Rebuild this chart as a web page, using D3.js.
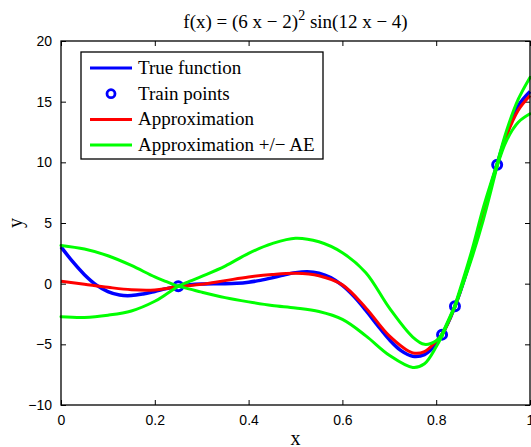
<!DOCTYPE html>
<html>
<head>
<meta charset="utf-8">
<script src="https://cdn.jsdelivr.net/npm/d3@7"></script>
<style>
  html, body { margin: 0; padding: 0; background: #fff; overflow: hidden; }
  svg { display: block; }
  .tick text { font-family: "Liberation Sans", Arial, sans-serif; font-size: 14px; fill: #000; }
  .serif { font-family: "Liberation Serif", "Times New Roman", serif; fill: #000; }
</style>
</head>
<body>
<div id="chart"></div>
<script>
// x positions
const xTrue = [0, 0.025, 0.05, 0.075, 0.1, 0.125, 0.15, 0.175, 0.2, 0.225, 0.25, 0.275, 0.3, 0.325,
  0.35, 0.375, 0.4, 0.425, 0.45, 0.475, 0.5, 0.525, 0.55, 0.575, 0.6, 0.625, 0.65, 0.675, 0.7,
  0.725, 0.75, 0.775, 0.8, 0.825, 0.85, 0.875, 0.9, 0.925, 0.95, 0.975, 1];
const yTrue = [3.03, 1.81, 0.74, -0.10, -0.66, -0.94, -0.98, -0.85, -0.64, -0.41, -0.21, -0.08, -0.02, 0.0,
  0.0, 0.03, 0.12, 0.27, 0.48, 0.72, 0.91, 0.99, 0.87, 0.50, -0.15, -1.07, -2.21, -3.44, -4.61,
  -5.52, -5.99, -5.85, -4.95, -3.25, -0.80, 2.27, 5.71, 9.19, 12.30, 14.65, 15.83];

const trainX = [0.25, 0.8125, 0.84, 0.93];
const trainY = [-0.21, -4.2, -1.86, 9.8];

const xApprox = [0, 0.05, 0.1, 0.15, 0.2, 0.225, 0.25, 0.275, 0.3, 0.35, 0.4, 0.45, 0.5, 0.55, 0.6, 0.65, 0.7,
  0.75, 0.775, 0.8, 0.8125, 0.84, 0.875, 0.9, 0.93, 0.95, 0.975, 1];
const yApprox = [0.2, -0.05, -0.3, -0.5, -0.52, -0.4, -0.22, -0.15, -0.05, 0.25, 0.55, 0.75, 0.85, 0.65, -0.1, -2.0, -4.3,
  -5.7, -5.6, -4.75, -4.2, -1.86, 2.3, 5.7, 9.8, 12.2, 14.3, 15.5];
const yUpper = [3.15, 2.85, 2.3, 1.5, 0.55, 0.17, -0.22, 0.2, 0.6, 1.45, 2.5, 3.3, 3.75, 3.45, 2.55, 0.9, -2.0,
  -4.4, -5.0, -4.7, -4.15, -1.8, 2.6, 6.2, 9.9, 12.6, 15.2, 17.0];
const yLower = [-2.72, -2.78, -2.6, -2.25, -1.45, -0.85, -0.22, -0.45, -0.7, -1.15, -1.5, -1.8, -2.0, -2.3, -2.95, -4.3, -5.9,
  -6.9, -6.6, -5.2, -4.3, -1.92, 2.0, 5.2, 9.7, 11.8, 13.3, 14.0];

const xTicks = [0, 0.2, 0.4, 0.6, 0.8, 1];
const yTicks = [-10, -5, 0, 5, 10, 15, 20];
const legendItems = ["True function", "Train points", "Approximation", "Approximation +/\u2212 AE"];

const W = 531, H = 447;
const plot = { left: 61, right: 530, top: 41, bottom: 405 };

const svg = d3.select("#chart").append("svg").attr("width", W).attr("height", H);

const x = d3.scaleLinear().domain([0, 1]).range([plot.left, plot.right]);
const y = d3.scaleLinear().domain([-10, 20]).range([plot.bottom, plot.top]);

const fmtTick = d => d < 0 ? "\u2212" + Math.abs(d) : String(d);

// axes with inward ticks on all four sides
const axisStyle = g => {
  g.select(".domain").remove();
  g.selectAll(".tick line").attr("stroke", "#000").attr("stroke-width", 1);
};
svg.append("g").attr("transform", `translate(0,${plot.bottom})`)
  .call(d3.axisBottom(x).tickValues(xTicks).tickSizeInner(-5).tickSizeOuter(0).tickPadding(10).tickFormat(d => d))
  .call(axisStyle);
svg.append("g").attr("transform", `translate(0,${plot.top})`)
  .call(d3.axisTop(x).tickValues(xTicks).tickSizeInner(-5).tickSizeOuter(0).tickFormat(""))
  .call(axisStyle);
svg.append("g").attr("transform", `translate(${plot.left},0)`)
  .call(d3.axisLeft(y).tickValues(yTicks).tickSizeInner(-5).tickSizeOuter(0).tickPadding(9).tickFormat(fmtTick))
  .call(axisStyle);
svg.append("g").attr("transform", `translate(${plot.right},0)`)
  .call(d3.axisRight(y).tickValues(yTicks).tickSizeInner(-5).tickSizeOuter(0).tickFormat(""))
  .call(axisStyle);

// curves
const line = d3.line().x(d => x(d[0])).y(d => y(d[1])).curve(d3.curveCatmullRom.alpha(0.5));
const g = svg.append("g");

g.append("path").datum(d3.zip(xTrue, yTrue)).attr("d", line)
  .attr("fill", "none").attr("stroke", "#0000ff").attr("stroke-width", 3.5);

g.selectAll("circle.train").data(d3.zip(trainX, trainY)).join("circle")
  .attr("class", "train")
  .attr("cx", d => x(d[0])).attr("cy", d => y(d[1])).attr("r", 4.5)
  .attr("fill", "none").attr("stroke", "#0000ff").attr("stroke-width", 3);

g.append("path").datum(d3.zip(xApprox, yApprox)).attr("d", line)
  .attr("fill", "none").attr("stroke", "#ff0000").attr("stroke-width", 3);

// error band: drawn piecewise so it pinches sharply at each train point
function splitAtTrain(pts) {
  const parts = [[]];
  pts.forEach(p => {
    parts[parts.length - 1].push(p);
    if (trainX.includes(p[0])) parts.push([p]);
  });
  return parts.filter(s => s.length > 1);
}
[yUpper, yLower].forEach(ys => {
  splitAtTrain(d3.zip(xApprox, ys)).forEach(seg => {
    g.append("path").datum(seg).attr("d", line)
      .attr("fill", "none").attr("stroke", "#00ff00").attr("stroke-width", 3)
      .attr("stroke-linecap", "round");
  });
});

// box
svg.append("rect")
  .attr("x", plot.left).attr("y", plot.top)
  .attr("width", plot.right - plot.left).attr("height", plot.bottom - plot.top)
  .attr("fill", "none").attr("stroke", "#000").attr("stroke-width", 1.3);

// title and labels
const title = svg.append("text").attr("class", "serif")
  .attr("x", (plot.left + plot.right) / 2).attr("y", 28)
  .attr("text-anchor", "middle").style("font-size", "19px");
title.append("tspan").text("f(x) = (6 x \u2212 2)");
title.append("tspan").attr("dy", -8).style("font-size", "14px").text("2");
title.append("tspan").attr("dy", 8).text(" sin(12 x \u2212 4)");

svg.append("text").attr("class", "serif")
  .attr("x", (plot.left + plot.right) / 2).attr("y", 445)
  .attr("text-anchor", "middle").style("font-size", "20px").text("x");

svg.append("text").attr("class", "serif")
  .attr("transform", `translate(22,${(plot.top + plot.bottom) / 2}) rotate(-90)`)
  .attr("text-anchor", "middle").style("font-size", "20px").text("y");

// legend
const leg = svg.append("g");
leg.append("rect").attr("x", 81).attr("y", 52).attr("width", 242).attr("height", 107)
  .attr("fill", "#fff").attr("stroke", "#000").attr("stroke-width", 1.3);
const rowY = i => 68 + i * 25.7;
const legColor = ["#0000ff", "#0000ff", "#ff0000", "#00ff00"];
legendItems.forEach((name, i) => {
  if (i === 1) {
    leg.append("circle").attr("cx", 111).attr("cy", rowY(i)).attr("r", 4)
      .attr("fill", "none").attr("stroke", legColor[i]).attr("stroke-width", 2.8);
  } else {
    leg.append("line").attr("x1", 90).attr("x2", 132).attr("y1", rowY(i)).attr("y2", rowY(i))
      .attr("stroke", legColor[i]).attr("stroke-width", 3);
  }
  leg.append("text").attr("class", "serif").attr("x", 138).attr("y", rowY(i) + 6)
    .style("font-size", "19px").text(name);
});
</script>
</body>
</html>
